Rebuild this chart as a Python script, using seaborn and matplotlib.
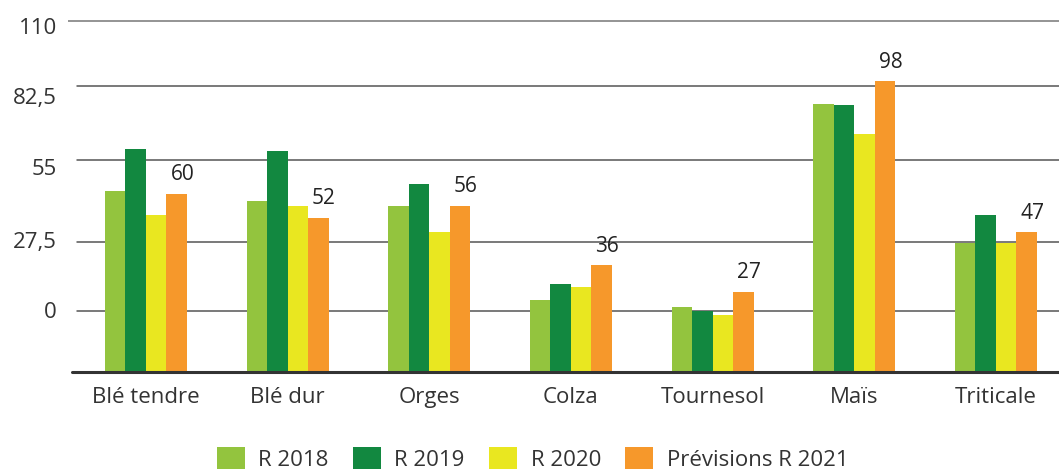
import pandas as pd
import seaborn as sns
import matplotlib.pyplot as plt

# Data
cultures = ['Blé tendre', 'Blé dur', 'Orges', 'Colza', 'Tournesol', 'Maïs', 'Triticale']
series = ['R 2018', 'R 2019', 'R 2020', 'Prévisions R 2021']
r2018 = [61, 57.6, 56, 24.2, 21.9, 90.2, 43.4]
r2019 = [75, 74.4, 63.3, 29.6, 20.5, 89.9, 52.9]
r2020 = [53, 56, 47.2, 28.6, 19.2, 80.1, 43.4]
prev2021 = [60, 52, 56, 36, 27, 98, 47]
colors = ['#93C43E', '#128840', '#E9E720', '#F6982B']

# y axis labels as printed (they sit off the bar scale in the original)
ytick_labels = ['110', '82,5', '55', '27,5', '0']
ytick_pos = [116.5, 92.9, 69.0, 44.4, 20.9]
grid_pos = [118.2, 96.4, 71.4, 43.9, 20.4]

df = pd.DataFrame({
    'culture': cultures * 4,
    'serie': sum([[s] * len(cultures) for s in series], []),
    'valeur': r2018 + r2019 + r2020 + prev2021,
})

sns.set_style('white')
plt.rcParams['font.family'] = ['Open Sans', 'DejaVu Sans']

fig = plt.figure(figsize=(10.59, 4.73), dpi=100)
ax = fig.add_axes([68 / 1059, 101 / 473, 991 / 1059, 357 / 473])

sns.barplot(data=df, x='culture', y='valeur', hue='serie', palette=colors,
            width=0.58, gap=0, saturation=1, linewidth=0, ax=ax, legend=True)

for i, g in enumerate(grid_pos):
    xmin = 0 if i == 0 else 0.009
    ax.axhline(g, xmin=xmin, color='#555555' if i else '#777777', lw=1.1, zorder=0)
ax.axhline(0, xmin=0.004, color='#333333', lw=2.2, zorder=3, clip_on=False)

# value labels above the forecast bars, slightly to the right as in the original
for bar, v in zip(ax.containers[3], prev2021):
    ax.annotate(str(v), (bar.get_x() + bar.get_width() / 2, bar.get_height()),
                xytext=(4, 6), textcoords='offset points', ha='center', va='bottom',
                fontsize=15, color='#222222')

ax.set_xlim(-0.55, 6.445)
ax.set_ylim(0, 120.2)
ax.set_yticks(ytick_pos)
ax.set_yticklabels(ytick_labels)
ax.set_xlabel('')
ax.set_ylabel('')
ax.tick_params(axis='both', length=0, labelsize=16, colors='#333333')
ax.tick_params(axis='y', pad=8)
ax.tick_params(axis='x', pad=11)
sns.despine(ax=ax, left=True, bottom=True)

handles, labels = ax.get_legend_handles_labels()
ax.get_legend().remove()
fig.legend(handles, labels, loc='center', bbox_to_anchor=(0.503, 0.03),
           ncol=4, frameon=False, fontsize=16, handlelength=1.26, handleheight=1.15,
           handletextpad=0.6, columnspacing=1.1, borderpad=0, labelcolor='#333333')

fig.savefig('out.png', dpi=100)
